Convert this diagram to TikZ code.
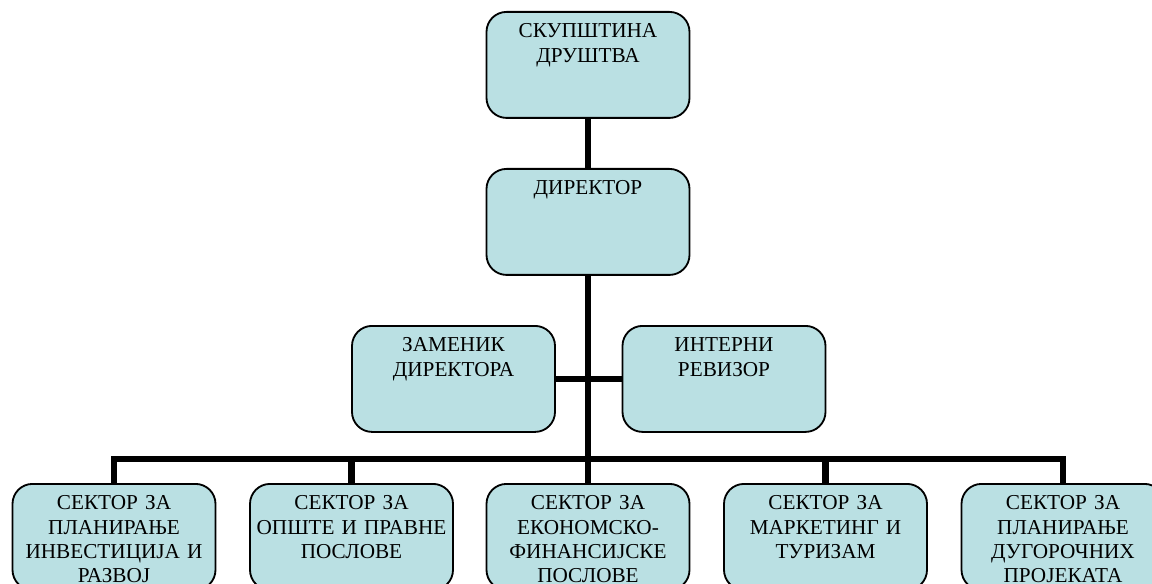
\documentclass[tikz,border=0pt]{standalone}
\usepackage{fontspec}
\setmainfont{Liberation Serif}
\usepackage{tikz}
\definecolor{boxfill}{RGB}{186,224,227}

\begin{document}
\begin{tikzpicture}[x=0.025cm,y=-0.025cm,
  orgbox/.style={draw=black, line width=1.3pt, fill=boxfill, rounded corners=0.5cm,
    anchor=north, text width=197*0.025cm, align=center, inner xsep=3*0.025cm, inner ysep=0pt,
    text height=26*0.025cm, text depth=80*0.025cm,
    font=\fontsize{15.1}{17.3}\selectfont},
  link/.style={line width=4.3pt}]
\useasboundingbox (0,0) rectangle (1152,584);
%\node {\includegraphics{orgchart.png}};
\node[orgbox] (skup) at (588,11) {СКУПШТИНА\\ДРУШТВА};
\node[orgbox] (dir) at (588,168) {ДИРЕКТОР};
\node[orgbox] (zam) at (453.5,325) {ЗАМЕНИК\\ДИРЕКТОРА};
\node[orgbox] (rev) at (724,325) {ИНТЕРНИ\\РЕВИЗОР};
\node[orgbox] (s1) at (114,483) {СЕКТОР ЗА\\ПЛАНИРАЊЕ\\ИНВЕСТИЦИЈА И\\РАЗВОЈ};
\node[orgbox] (s2) at (351.5,483) {СЕКТОР ЗА\\ОПШТЕ И ПРАВНЕ\\ПОСЛОВЕ};
\node[orgbox] (s3) at (588,483) {СЕКТОР ЗА\\ЕКОНОМСКО-\\ФИНАНСИЈСКЕ\\ПОСЛОВЕ};
\node[orgbox] (s4) at (825.5,483) {СЕКТОР ЗА\\МАРКЕТИНГ И\\ТУРИЗАМ};
\node[orgbox] (s5) at (1063,483) {СЕКТОР ЗА\\ПЛАНИРАЊЕ\\ДУГОРОЧНИХ\\ПРОЈЕКАТА};
\coordinate (bus) at (588,459);
\draw[link] (skup.south) -- (dir.north);
\draw[link] (dir.south) -- (bus) -- (s3.north);
\draw[link] (zam.east) -- (rev.west);
\draw[link] (s1.north) |- (bus) -| (s5.north);
\draw[link] (s2.north) -- (s2.north |- bus);
\draw[link] (s4.north) -- (s4.north |- bus);
\end{tikzpicture}
\end{document}
